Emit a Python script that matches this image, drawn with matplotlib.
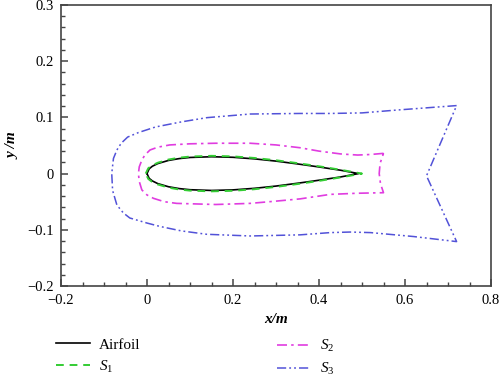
#Airfoil with surrounding surfaces S1, S2, S3

import numpy as np
import matplotlib
matplotlib.use('Agg')
import matplotlib.pyplot as plt
from matplotlib.ticker import MultipleLocator, FuncFormatter

plt.rcParams['font.family'] = ['Liberation Serif', 'DejaVu Serif']
plt.rcParams['mathtext.fontset'] = 'custom'
plt.rcParams['mathtext.rm'] = 'Liberation Serif'
plt.rcParams['mathtext.it'] = 'Liberation Serif:italic'

#airfoil (upper surface, lower is the mirror)
af_x = [0, 0.005, 0.0125, 0.025, 0.05, 0.075, 0.1, 0.15, 0.2, 0.25, 0.3, 0.35, 0.4, 0.45, 0.492]
af_yu = [0, 0.0085, 0.0131, 0.0178, 0.0234, 0.0267, 0.0287, 0.0300, 0.0290, 0.0262, 0.0222, 0.0172, 0.0118, 0.0060, 0.0]
af_yl = [0, -0.0085, -0.0131, -0.0178, -0.0234, -0.0267, -0.0287, -0.0300, -0.0290, -0.0262, -0.0222, -0.0172, -0.0118, -0.0060, 0.0]

#S1 surface
s1_x = [-0.003, 0.003, 0.0115, 0.025, 0.05, 0.075, 0.1, 0.15, 0.2, 0.25, 0.3, 0.35, 0.4, 0.45, 0.5]
s1_yu = [0, 0.0095, 0.0145, 0.0193, 0.0250, 0.0283, 0.0303, 0.0316, 0.0306, 0.0278, 0.0237, 0.0186, 0.0130, 0.0068, 0.0]
s1_yl = [0, -0.0095, -0.0145, -0.0193, -0.0250, -0.0283, -0.0303, -0.0316, -0.0306, -0.0278, -0.0237, -0.0186, -0.0130, -0.0068, 0.0]

#S2 surface (closed loop)
s2_x = [0.550, 0.52, 0.49, 0.45, 0.40, 0.356, 0.30, 0.24, 0.16, 0.10, 0.053, 0.025, 0.007, -0.005,
        -0.012, -0.018, -0.020, -0.018, -0.012, 0.0, 0.015, 0.04, 0.069, 0.16, 0.24, 0.30, 0.356,
        0.426, 0.488, 0.550, 0.543, 0.540, 0.542, 0.550]
s2_y = [0.036, 0.034, 0.033, 0.035, 0.040, 0.046, 0.051, 0.054, 0.054, 0.053, 0.051, 0.047, 0.042, 0.033,
        0.024, 0.012, 0.0, -0.014, -0.029, -0.038, -0.044, -0.050, -0.053, -0.055, -0.053, -0.049, -0.045,
        -0.037, -0.035, -0.034, -0.018, 0.0, 0.018, 0.036]

#S3 surface (closed loop)
s3_x = [0.72, 0.65, 0.58, 0.50, 0.426, 0.356, 0.24, 0.139, 0.08, 0.02, -0.02, -0.045, -0.060, -0.070,
        -0.078, -0.082, -0.080, -0.07, -0.055, -0.04, 0.0, 0.03, 0.08, 0.139, 0.24, 0.356, 0.426,
        0.472, 0.52, 0.62, 0.72, 0.65, 0.72]
s3_y = [0.121, 0.117, 0.113, 0.108, 0.107, 0.107, 0.106, 0.0995, 0.092, 0.083, 0.073, 0.065, 0.054, 0.042,
        0.027, 0.0, -0.03, -0.056, -0.070, -0.079, -0.088, -0.094, -0.102, -0.108, -0.111, -0.109, -0.105,
        -0.104, -0.105, -0.112, -0.121, -0.004, 0.121]

fig = plt.figure(figsize=(5, 3.78), dpi=100)
ax = fig.add_axes([0.122, 0.2434, 0.86, 0.7434])

l0, = ax.plot(af_x + af_x[::-1], af_yu + af_yl[::-1], color='black', lw=1.2, label='Airfoil')
l1, = ax.plot(s1_x + s1_x[::-1], s1_yu + s1_yl[::-1], color='#33cc33', lw=1.4, ls=(0, (4, 3)), label='$S_1$')
l2, = ax.plot(s2_x, s2_y, color='#e03ce0', lw=1.2, ls=(0, (6, 2.5, 1.5, 2.5)), label='$S_2$')
l3, = ax.plot(s3_x, s3_y, color='#5252d8', lw=1.1, ls=(0, (6, 2, 1.2, 2, 1.2, 2)), label='$S_3$')

ax.set_xlim(-0.2, 0.8)
ax.set_ylim(-0.2, 0.3)
ax.xaxis.set_major_locator(MultipleLocator(0.2))
ax.xaxis.set_minor_locator(MultipleLocator(0.05))
ax.yaxis.set_major_locator(MultipleLocator(0.1))
ax.yaxis.set_minor_locator(MultipleLocator(0.02))
fmt = FuncFormatter(lambda v, p: ('%g' % round(v, 3)).replace('-', '\u2212'))
ax.xaxis.set_major_formatter(fmt)
ax.yaxis.set_major_formatter(fmt)
ax.tick_params(which='both', direction='in', top=False, right=False, labelsize=10.5, color='#444444')
ax.tick_params(which='major', length=5, width=1.1)
ax.tick_params(which='minor', length=3, width=1.0)
ax.tick_params(axis='x', pad=6)
ax.tick_params(axis='y', pad=5)
for s in ax.spines.values():
    s.set_color('#444444')
    s.set_linewidth(1.2)

ax.set_xlabel('x/m', fontsize=11, fontstyle='italic', fontweight='bold', labelpad=4)
ax.set_ylabel('y /m', fontsize=11, fontstyle='italic', fontweight='bold', labelpad=6)

leg_kw = dict(frameon=False, fontsize=11, handlelength=2.2, handletextpad=0.6,
              labelspacing=0.45, borderaxespad=0, borderpad=0)
fig.legend(handles=[l0, l1], loc='upper left', bbox_to_anchor=(0.112, 0.106), **leg_kw)
fig.legend(handles=[l2, l3], loc='upper left', bbox_to_anchor=(0.554, 0.106), **leg_kw)

plt.savefig('out.png', dpi=100)
